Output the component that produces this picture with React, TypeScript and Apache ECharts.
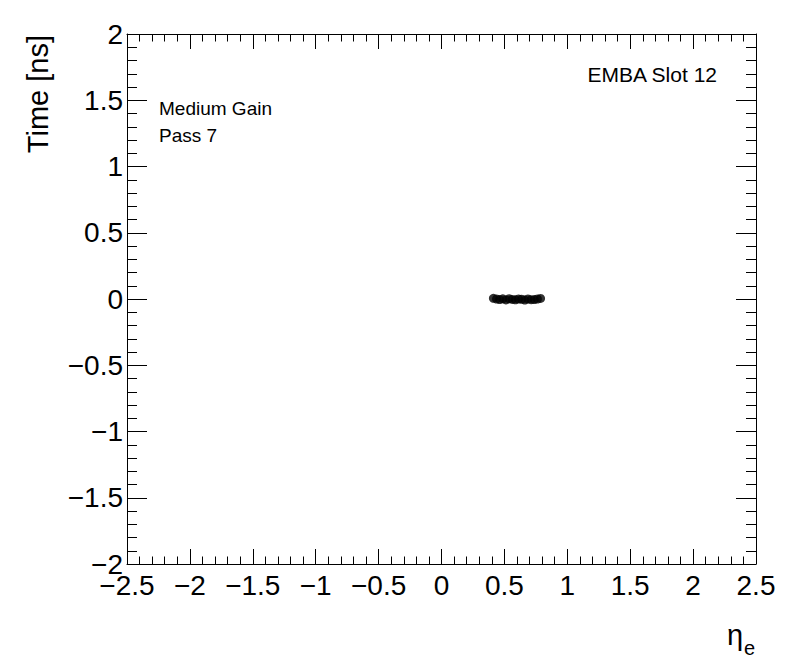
import React, { useEffect, useRef } from "react";
import * as echarts from "echarts";

const etaValues = [0.4125, 0.4375, 0.4625, 0.4875, 0.5125, 0.5375, 0.5625, 0.5875, 0.6125, 0.6375, 0.6625, 0.6875, 0.7125, 0.7375, 0.7625, 0.7875];
const timeValues = [0.005, 0.0, -0.004, 0.001, -0.007, 0.002, -0.003, -0.006, 0.0, -0.002, -0.008, 0.0, -0.005, -0.004, 0.0, 0.004];

const xMin = -2.5, xMax = 2.5, xInterval = 0.5;
const yMin = -2, yMax = 2, yInterval = 0.5;

const FONT = "'Liberation Sans', Arial, Helvetica, sans-serif";

const fmt = (v: number) => {
  const s = String(Math.round(v * 100) / 100);
  return s.replace("-", "\u2212");
};

export default function App() {
  const ref = useRef<HTMLDivElement>(null);
  useEffect(() => {
    document.body.style.margin = "0";
    if (!ref.current) return;
    const chart = echarts.init(ref.current, null, { renderer: "svg" });
    const tickCommon = (len: number) => ({
      axisLine: { show: true, onZero: false, lineStyle: { color: "#000", width: 1 } },
      axisTick: { show: true, inside: true, length: len, lineStyle: { color: "#000", width: 1 } },
      minorTick: { show: true, splitNumber: 5, length: len / 2, lineStyle: { color: "#000", width: 1 } },
      splitLine: { show: false },
      minorSplitLine: { show: false },
    });
    const xBase = { type: "value", min: xMin, max: xMax, interval: xInterval, ...tickCommon(15) };
    const yBase = { type: "value", min: yMin, max: yMax, interval: yInterval, ...tickCommon(20) };
    chart.setOption({
      animation: false,
      backgroundColor: "#fff",
      grid: { left: 127, right: 40, top: 34, bottom: 108, containLabel: false },
      xAxis: [
        {
          ...xBase,
          position: "bottom",
          axisLabel: { show: true, formatter: fmt, fontSize: 28, color: "#000", fontFamily: FONT, margin: 7 },
        },
        { ...xBase, position: "top", axisLabel: { show: false } },
      ],
      yAxis: [
        {
          ...yBase,
          position: "left",
          axisLabel: { show: true, formatter: fmt, fontSize: 28, color: "#000", fontFamily: FONT, margin: 4 },
        },
        { ...yBase, position: "right", axisLabel: { show: false } },
      ],
      series: [
        {
          type: "scatter",
          xAxisIndex: 0,
          yAxisIndex: 0,
          data: etaValues.map((e, i) => [e, timeValues[i]]),
          symbol: "circle",
          symbolSize: 9,
          itemStyle: { color: "#000" },
        },
      ],
      graphic: [
        {
          type: "text",
          x: 38,
          y: 35,
          rotation: Math.PI / 2,
          style: { text: "Time [ns]", fontSize: 29, fontFamily: FONT, fill: "#000", align: "right", verticalAlign: "middle" },
        },
        {
          type: "text",
          x: 727,
          y: 635,
          style: { text: "\u03b7", fontSize: 29, fontFamily: FONT, fill: "#000", align: "left", verticalAlign: "middle" },
        },
        {
          type: "text",
          x: 744,
          y: 648,
          style: { text: "e", fontSize: 20, fontFamily: FONT, fill: "#000", align: "left", verticalAlign: "middle" },
        },
        {
          type: "text",
          x: 717,
          y: 74,
          style: { text: "EMBA Slot 12", fontSize: 21, fontFamily: FONT, fill: "#000", align: "right", verticalAlign: "middle" },
        },
        {
          type: "text",
          x: 159,
          y: 108,
          style: { text: "Medium Gain", fontSize: 19, fontFamily: FONT, fill: "#000", align: "left", verticalAlign: "middle" },
        },
        {
          type: "text",
          x: 159,
          y: 135,
          style: { text: "Pass 7", fontSize: 19, fontFamily: FONT, fill: "#000", align: "left", verticalAlign: "middle" },
        },
      ],
    });
    return () => chart.dispose();
  }, []);
  return <div ref={ref} style={{ width: 796, height: 672 }} />;
}
